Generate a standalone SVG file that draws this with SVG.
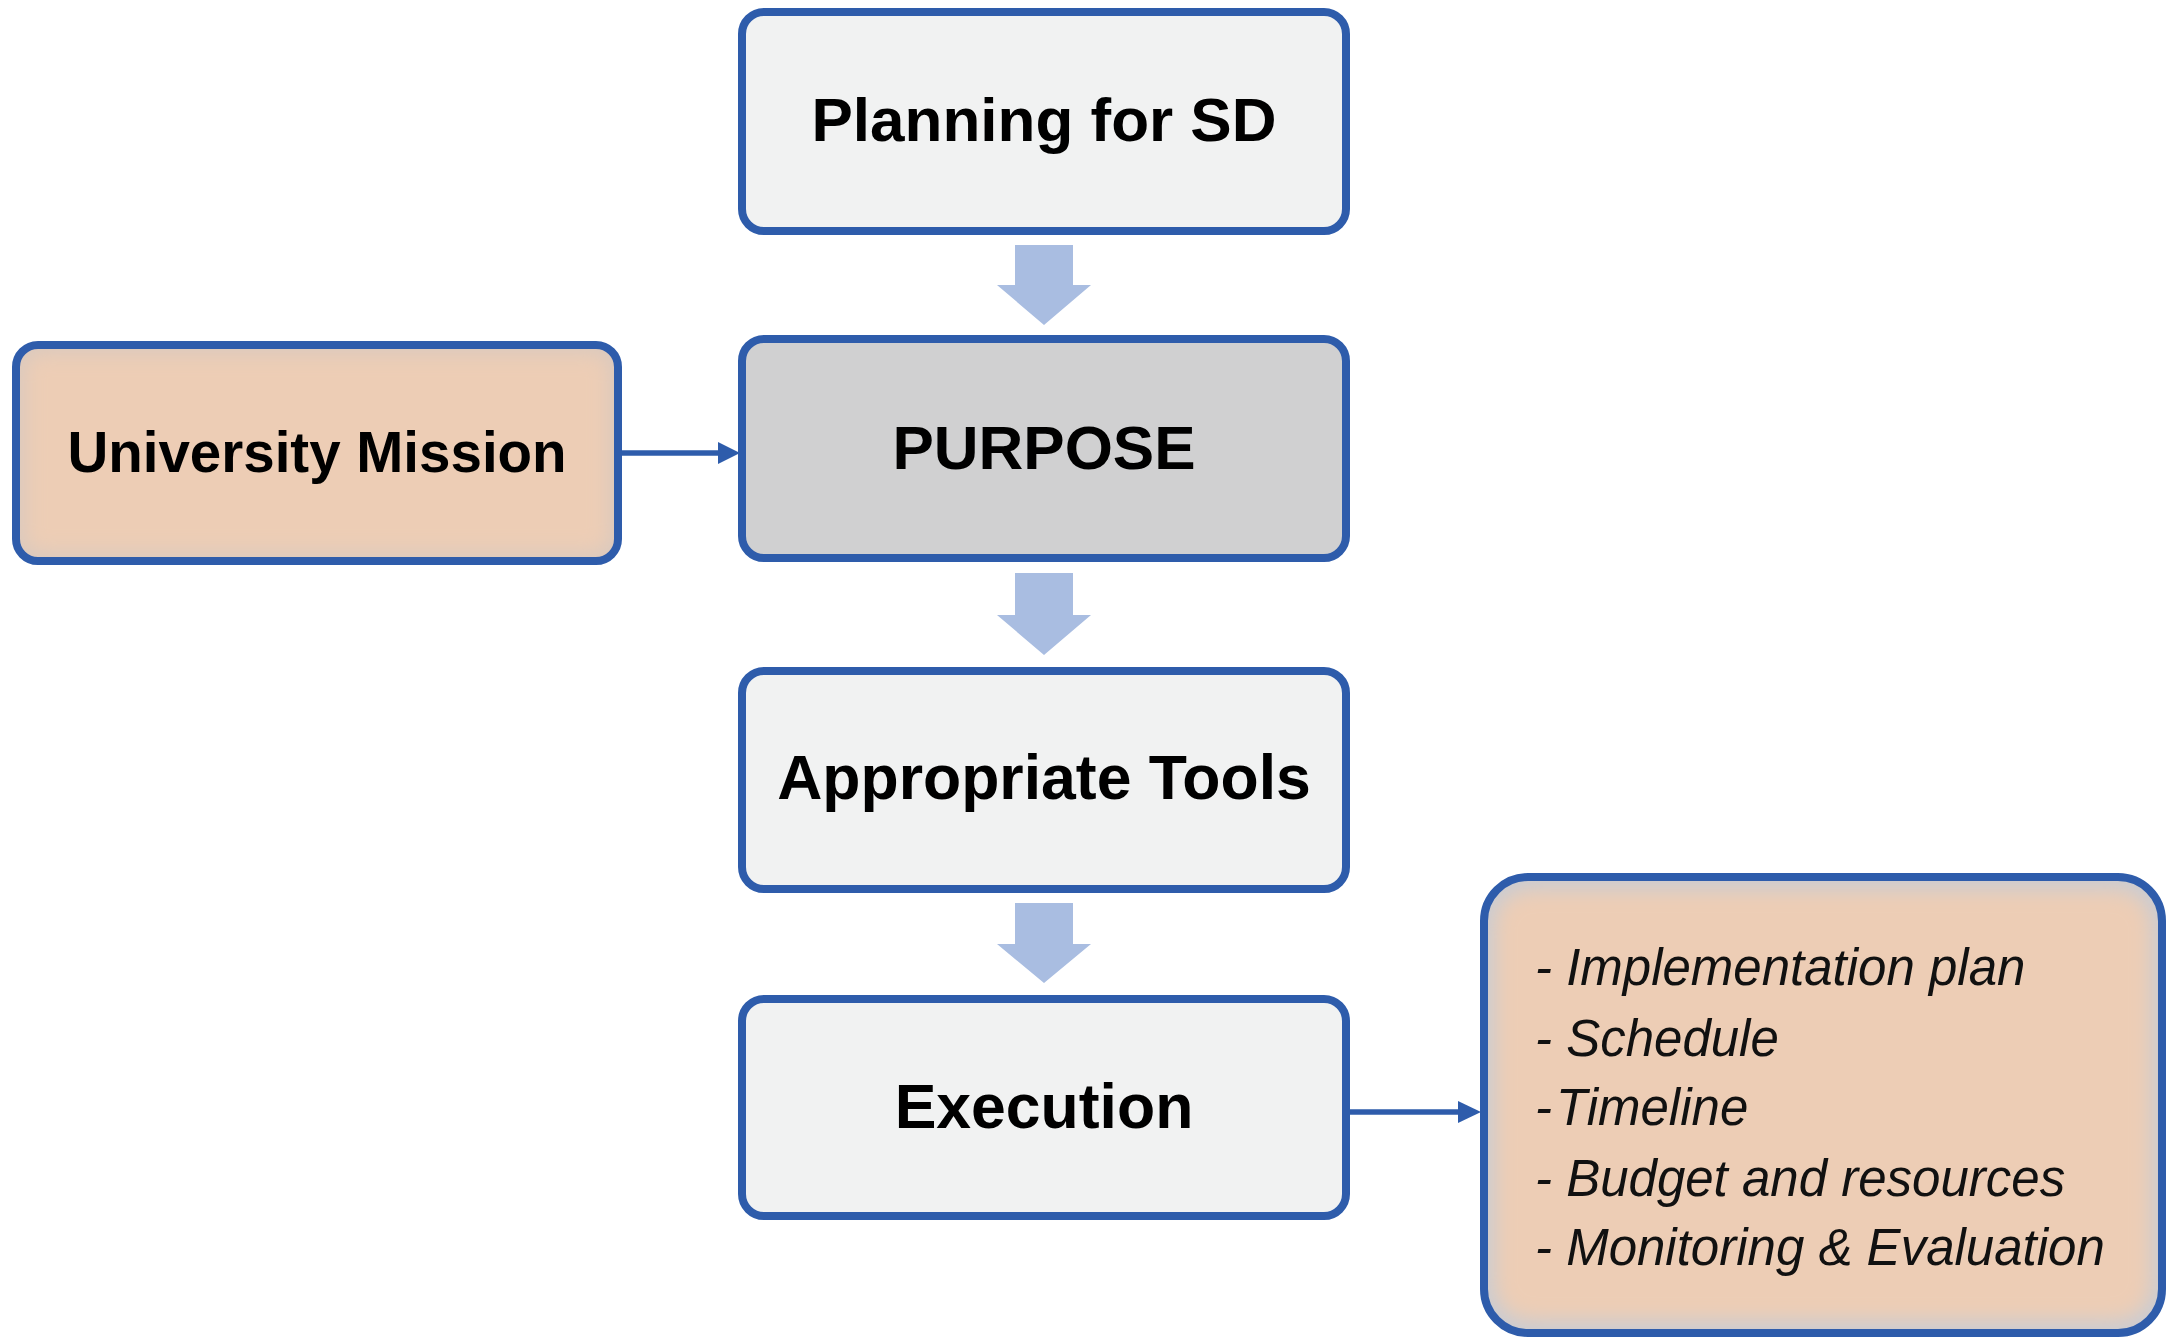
<svg xmlns="http://www.w3.org/2000/svg" width="2168" height="1339" viewBox="0 0 2168 1339">
  <defs>
    <style>
      .box { stroke: #2E5CAB; stroke-width: 8; }
      .light { fill: #F1F2F2; }
      .gray { fill: #D0D0D1; }
      .peach { fill: #EDCDB5; }
      .lbl { font-family: "Liberation Sans", Arial, sans-serif; font-weight: bold; fill: #000; text-anchor: middle; }
      .item { font-family: "Liberation Sans", Arial, sans-serif; font-style: italic; font-size: 51px; fill: #111; }
      .blockarrow { fill: #A9BDE1; }
      .conn { stroke: #2E5CAB; stroke-width: 5.5; fill: none; }
      .head { fill: #2E5CAB; }
    </style>
    <filter id="soft" x="-10%" y="-10%" width="120%" height="120%">
      <feGaussianBlur stdDeviation="10"/>
    </filter>
    <clipPath id="clipR">
      <rect x="1484" y="877" width="678" height="456" rx="44"/>
    </clipPath>
    <clipPath id="clipU">
      <rect x="16" y="345" width="602" height="216" rx="22"/>
    </clipPath>
  </defs>

  <rect x="0" y="0" width="2168" height="1339" fill="#FFFFFF"/>

  <g id="connectors">
    <polygon class="blockarrow" points="1015,245 1073,245 1073,285 1091,285 1044,325 997,285 1015,285"/>
    <polygon class="blockarrow" points="1015,573 1073,573 1073,615 1091,615 1044,655 997,615 1015,615"/>
    <polygon class="blockarrow" points="1015,903 1073,903 1073,944 1091,944 1044,983 997,944 1015,944"/>
    <line class="conn" x1="622" y1="453" x2="720" y2="453"/>
    <polygon class="head" points="718,442 740,453 718,464"/>
    <line class="conn" x1="1350" y1="1112" x2="1460" y2="1112"/>
    <polygon class="head" points="1458,1101 1481,1112 1458,1123"/>
  </g>

  <g id="node-planning">
    <rect class="box light" x="742" y="12" width="604" height="219" rx="22"/>
    <text class="lbl" x="1044" y="141" font-size="62">Planning for SD</text>
  </g>

  <g id="node-university-mission">
    <g clip-path="url(#clipU)">
      <rect x="16" y="345" width="602" height="216" fill="#D9C9BF"/>
      <rect x="24" y="353" width="586" height="200" rx="16" class="peach" filter="url(#soft)"/>
    </g>
    <rect class="box" fill="none" x="16" y="345" width="602" height="216" rx="22"/>
    <text class="lbl" x="317" y="472" font-size="56.5">University Mission</text>
  </g>

  <g id="node-purpose">
    <rect class="box gray" x="742" y="339" width="604" height="219" rx="22"/>
    <text class="lbl" x="1044" y="469" font-size="62">PURPOSE</text>
  </g>

  <g id="node-tools">
    <rect class="box light" x="742" y="671" width="604" height="218" rx="22"/>
    <text class="lbl" x="1044" y="799" font-size="62.5">Appropriate Tools</text>
  </g>

  <g id="node-execution">
    <rect class="box light" x="742" y="999" width="604" height="217" rx="22"/>
    <text class="lbl" x="1044" y="1128" font-size="62.5">Execution</text>
  </g>

  <g id="node-details">
    <g clip-path="url(#clipR)">
      <rect x="1484" y="877" width="678" height="456" fill="#C9CCD3"/>
      <rect x="1494" y="889" width="658" height="432" rx="36" class="peach" filter="url(#soft)"/>
    </g>
    <rect class="box" fill="none" x="1484" y="877" width="678" height="456" rx="44"/>
    <text class="item" x="1535" y="985">- Implementation plan</text>
    <text class="item" x="1535" y="1056">- Schedule</text>
    <text class="item" x="1535" y="1125">-<tspan dx="4">Timeline</tspan></text>
    <text class="item" x="1535" y="1196">- Budget and resources</text>
    <text class="item" x="1535" y="1265">- Monitoring &amp; Evaluation</text>
  </g>
</svg>
